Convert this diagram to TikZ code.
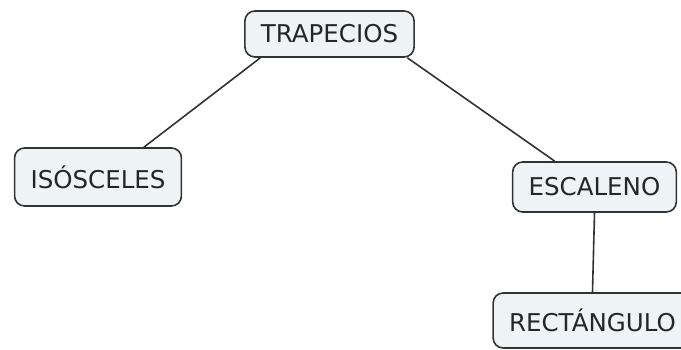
\documentclass[tikz,border=0pt]{standalone}
\usepackage{fontspec}
\setmainfont{DejaVu Sans}
\usetikzlibrary{positioning}

\definecolor{boxfill}{RGB}{238,243,246}
\definecolor{boxline}{RGB}{50,50,50}

\begin{document}
\begin{tikzpicture}[x=1pt, y=1pt,
    concept/.style={draw=boxline, line width=1.6pt, fill=boxfill, rounded corners=10pt,
        inner xsep=16pt, inner ysep=0pt, text=black!85,
        font=\fontsize{24.5}{28}\selectfont},
    link/.style={draw=boxline, line width=1.6pt}]

    \useasboundingbox (0,0) rectangle (681,350);

    % Nodes
    \node[concept, minimum height=46pt] (trap) at (329.5,316) {TRAPECIOS};
    \node[concept, minimum height=58pt] (iso) at (98,173) {ISÓSCELES};
    \node[concept, minimum height=50pt] (esc) at (594.5,163) {ESCALENO};
    \node[concept, minimum height=55pt] (rect) at (592.5,29.5) {RECTÁNGULO};

    % Links
    \draw[link] (trap.199) -- (iso.33);
    \draw[link] (trap.-17.6) -- (esc.147);
    \draw[link] (esc.south) -- (rect.north);

\end{tikzpicture}
\end{document}
